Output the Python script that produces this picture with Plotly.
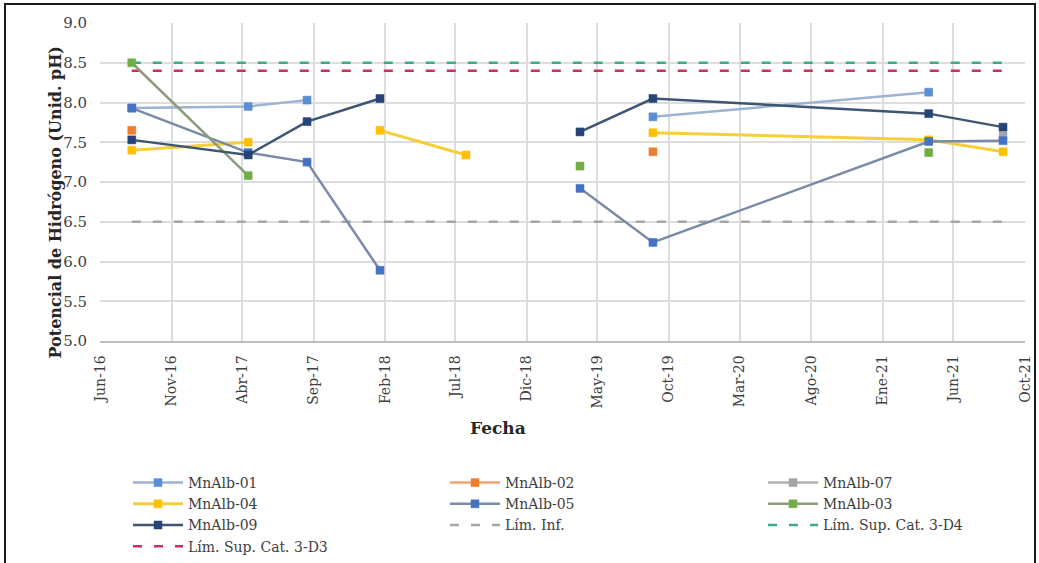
import plotly.graph_objects as go

# Sampling dates (monitoring campaigns)
fechas = ["2016-08-08", "2017-04-14", "2017-08-18", "2018-01-21", "2018-07-24",
          "2019-03-25", "2019-08-28", "2021-04-09", "2021-09-15"]

# pH per station (None = no measurement)
mnalb_01 = [7.93, 7.95, 8.03, None, None, None, 7.82, 8.13, None]
mnalb_02 = [7.65, None, None, None, None, None, 7.38, None, None]
mnalb_07 = [None, None, None, None, None, None, None, None, 7.58]
mnalb_04 = [7.40, 7.50, None, 7.65, 7.34, None, 7.62, 7.53, 7.38]
mnalb_05 = [7.93, 7.37, 7.25, 5.89, None, 6.92, 6.24, 7.51, 7.52]
mnalb_03 = [8.50, 7.08, None, None, None, 7.20, None, 7.37, None]
mnalb_09 = [7.53, 7.34, 7.76, 8.05, None, 7.63, 8.05, 7.86, 7.69]

# Standard limits
lim_inf = 6.5
lim_sup_d4 = 8.5
lim_sup_d3 = 8.4

# Axis ticks
tick_fechas = ["2016-06-01", "2016-11-01", "2017-04-01", "2017-09-01", "2018-02-01",
               "2018-07-01", "2018-12-01", "2019-05-01", "2019-10-01", "2020-03-01",
               "2020-08-01", "2021-01-01", "2021-06-01", "2021-11-01"]
tick_textos = ["Jun-16", "Nov-16", "Abr-17", "Sep-17", "Feb-18", "Jul-18", "Dic-18",
               "May-19", "Oct-19", "Mar-20", "Ago-20", "Ene-21", "Jun-21", "Oct-21"]
y_ticks = [5.0, 5.5, 6.0, 6.5, 7.0, 7.5, 8.0, 8.5, 9.0]

FONT = "DejaVu Serif"
TXT = "#404040"

fig = go.Figure()


def estacion(nombre, valores, linea, marcador, legend, ancho=2.5):
    fig.add_trace(go.Scatter(
        x=fechas, y=valores, name=nombre, mode="lines+markers",
        line=dict(color=linea, width=ancho),
        marker=dict(symbol="square", size=8, color=marcador,
                    line=dict(color=marcador, width=0.5)),
        connectgaps=False, legend=legend))


def limite(nombre, valor, color, legend):
    fig.add_trace(go.Scatter(
        x=[fechas[0], fechas[-1]], y=[valor, valor], name=nombre, mode="lines",
        line=dict(color=color, width=2.5, dash="9px,12px"), legend=legend))


# dashed limits drawn first, stations on top
limite("Lím. Inf.", lim_inf, "#A6A6A6", "legend2")
limite("Lím. Sup. Cat. 3-D4", lim_sup_d4, "#3AAE7C", "legend3")
limite("Lím. Sup. Cat. 3-D3", lim_sup_d3, "#C8315A", "legend")

estacion("MnAlb-01", mnalb_01, "#9DB3CF", "#5B8FD3", "legend")
estacion("MnAlb-02", mnalb_02, "#F0A36E", "#ED7D31", "legend2")
estacion("MnAlb-07", mnalb_07, "#B0B0B0", "#A5A5A5", "legend3")
estacion("MnAlb-04", mnalb_04, "#F5CF3A", "#FFC000", "legend", ancho=3)
estacion("MnAlb-05", mnalb_05, "#7B8AA6", "#4472C4", "legend2")
estacion("MnAlb-03", mnalb_03, "#8C9C7C", "#70AD47", "legend3")
estacion("MnAlb-09", mnalb_09, "#3E5670", "#264478", "legend")

# legend entry order inside each column
orden = {"MnAlb-01": 1, "MnAlb-04": 2, "MnAlb-09": 3, "Lím. Sup. Cat. 3-D3": 4,
         "MnAlb-02": 1, "MnAlb-05": 2, "Lím. Inf.": 3,
         "MnAlb-07": 1, "MnAlb-03": 2, "Lím. Sup. Cat. 3-D4": 3}
for tr in fig.data:
    tr.legendrank = orden[tr.name]

leg_common = dict(font=dict(family=FONT, size=14, color=TXT), bgcolor="rgba(0,0,0,0)",
                  itemwidth=50, tracegroupgap=0, xref="container", yref="container",
                  yanchor="top", xanchor="left", traceorder="normal")

W, H = 1039, 563
L, R, T, B = 100, 1025, 23, 341
px_w, px_h = R - L, B - T

fig.update_layout(
    width=W, height=H,
    margin=dict(l=L, r=W - R, t=T, b=H - B, autoexpand=False),
    paper_bgcolor="white", plot_bgcolor="white",
    font=dict(family=FONT, color=TXT),
    legend=dict(x=128 / W, y=1 - 467 / H, **leg_common),
    legend2=dict(x=445 / W, y=1 - 467 / H, **leg_common),
    legend3=dict(x=763 / W, y=1 - 467 / H, **leg_common),
    xaxis=dict(
        type="date", range=["2016-06-01", "2021-11-01"],
        tickmode="array", tickvals=tick_fechas, ticktext=tick_textos,
        tickangle=-90, tickfont=dict(family=FONT, size=14, color=TXT),
        showgrid=True, gridcolor="#DDDDDD", gridwidth=1.5,
        showline=True, linecolor="#BFBFBF", linewidth=1.5,
        ticks="", ticklabelstandoff=7,
        zeroline=False, automargin=False,
    ),
    yaxis=dict(
        range=[5.0, 9.0], tickmode="array", tickvals=y_ticks,
        tickformat=".1f", tickfont=dict(family=FONT, size=15, color=TXT),
        showgrid=True, gridcolor="#DDDDDD", gridwidth=1.5,
        showline=False, ticks="", ticklabelstandoff=12,
        zeroline=False, automargin=False,
    ),
)

# axis titles
fig.add_annotation(text="<b>Potencial de Hidrógeno (Unid. pH)</b>", textangle=-90,
                   xref="paper", yref="paper", x=(43 - L) / px_w, y=(B - 203) / px_h,
                   showarrow=False, font=dict(family=FONT, size=16, color="#262626"))
fig.add_annotation(text="<b>Fecha</b>", xref="paper", yref="paper",
                   x=(498 - L) / px_w, y=(B - 440) / px_h, showarrow=False,
                   font=dict(family=FONT, size=17, color="#262626"))

# chart frame
fig.add_shape(type="rect", xref="paper", yref="paper",
              x0=(5 - L) / px_w, x1=(1035 - L) / px_w,
              y0=(B - 600) / px_h, y1=(B - 4) / px_h,
              line=dict(color="#1A1A1A", width=2), fillcolor="rgba(0,0,0,0)", layer="below")

fig.write_html("out.html")
